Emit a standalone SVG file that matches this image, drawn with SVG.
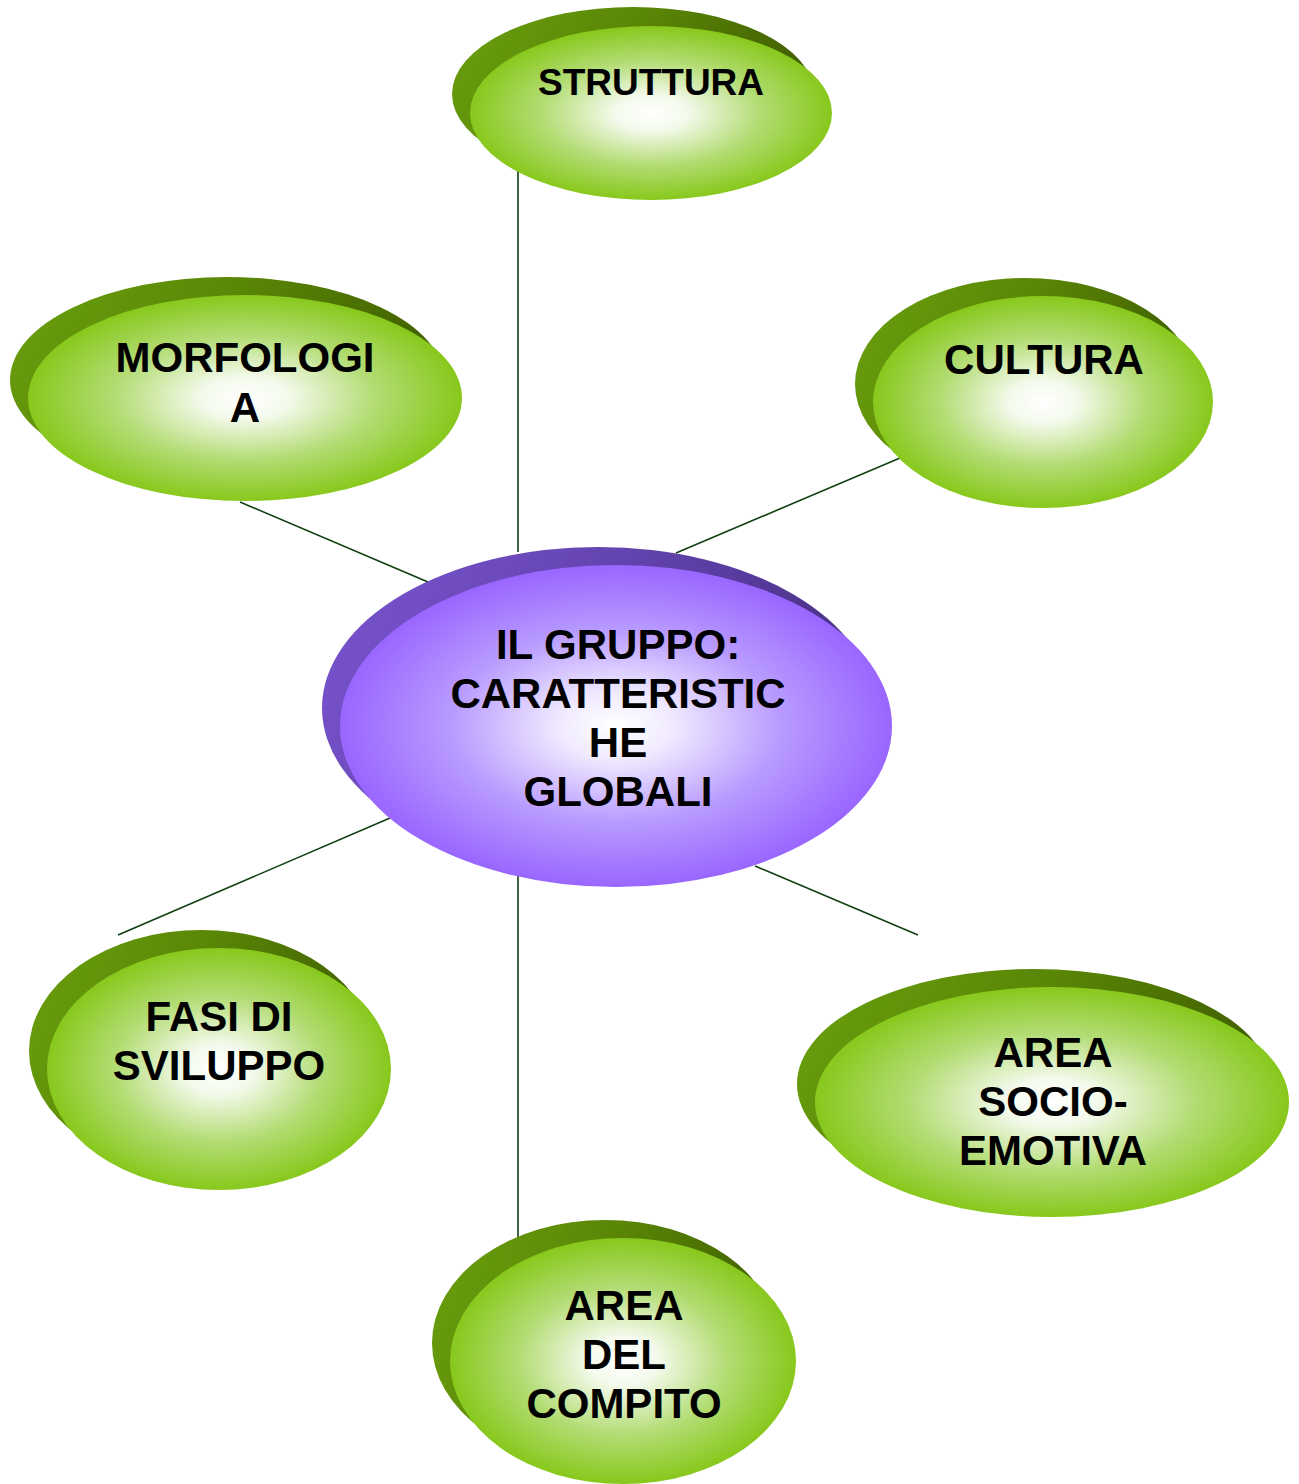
<svg xmlns="http://www.w3.org/2000/svg" width="1299" height="1484" viewBox="0 0 1299 1484">
<defs>
<radialGradient id="gFront" cx="0.5" cy="0.5" r="0.5">
<stop offset="0" stop-color="#ffffff"/>
<stop offset="0.2" stop-color="#f4faec"/>
<stop offset="0.6" stop-color="#b3dc74"/>
<stop offset="1" stop-color="#88c81c"/>
</radialGradient>
<linearGradient id="gBack" x1="0" y1="0" x2="1" y2="0.3">
<stop offset="0" stop-color="#6aa00e"/>
<stop offset="0.5" stop-color="#5a8606"/>
<stop offset="1" stop-color="#405e00"/>
</linearGradient>
<radialGradient id="pFront" cx="0.5" cy="0.5" r="0.5">
<stop offset="0" stop-color="#ffffff"/>
<stop offset="0.2" stop-color="#f1ebff"/>
<stop offset="0.6" stop-color="#b89aff"/>
<stop offset="1" stop-color="#9966ff"/>
</radialGradient>
<linearGradient id="pBack" x1="0" y1="0" x2="1" y2="0.3">
<stop offset="0" stop-color="#7a55d0"/>
<stop offset="0.5" stop-color="#6444b0"/>
<stop offset="1" stop-color="#483084"/>
</linearGradient>
</defs>
<style>
.back{fill:url(#gBack);}
.front{fill:url(#gFront);}
.pback{fill:url(#pBack);}
.pfront{fill:url(#pFront);}
.conn line{stroke:#123f12;stroke-width:1.6;fill:none;}
text{font-family:"Liberation Sans",Arial,sans-serif;font-weight:bold;fill:#000;text-anchor:middle;}
.t36{font-size:37px;}
.t42{font-size:42px;}
</style>
<rect width="1299" height="1484" fill="#ffffff"/>
<g id="connectors" class="conn">
<line x1="518" y1="160" x2="518" y2="552"/>
<line x1="240" y1="502" x2="428" y2="582"/>
<line x1="900" y1="458" x2="676" y2="553"/>
<line x1="390" y1="818" x2="118" y2="935"/>
<line x1="755" y1="866" x2="918" y2="935"/>
<line x1="518" y1="876" x2="518" y2="1240"/>
</g>
<g id="struttura">
<ellipse class="back" cx="633" cy="94" rx="181" ry="87"/>
<ellipse class="front" cx="651" cy="113" rx="181" ry="87"/>
<text class="t36" x="651" y="95">STRUTTURA</text>
</g>
<g id="morfologia">
<ellipse class="back" cx="227" cy="380" rx="217" ry="103"/>
<ellipse class="front" cx="245" cy="398" rx="217" ry="103"/>
<text class="t42" x="245" y="372">MORFOLOGI</text>
<text class="t42" x="245" y="422">A</text>
</g>
<g id="cultura">
<ellipse class="back" cx="1025" cy="384" rx="170" ry="106"/>
<ellipse class="front" cx="1043" cy="402" rx="170" ry="106"/>
<text class="t42" x="1044" y="374">CULTURA</text>
</g>
<g id="il-gruppo">
<ellipse class="pback" cx="598" cy="708" rx="276" ry="161"/>
<ellipse class="pfront" cx="616" cy="726" rx="276" ry="161"/>
<text class="t42" x="618" y="659">IL GRUPPO:</text>
<text class="t42" x="618" y="708">CARATTERISTIC</text>
<text class="t42" x="618" y="757">HE</text>
<text class="t42" x="618" y="806">GLOBALI</text>
</g>
<g id="fasi-di-sviluppo">
<ellipse class="back" cx="201" cy="1051" rx="172" ry="121"/>
<ellipse class="front" cx="219" cy="1069" rx="172" ry="121"/>
<text class="t42" x="219" y="1031">FASI DI</text>
<text class="t42" x="219" y="1080">SVILUPPO</text>
</g>
<g id="area-socio-emotiva">
<ellipse class="back" cx="1034" cy="1084" rx="237" ry="115"/>
<ellipse class="front" cx="1052" cy="1102" rx="237" ry="115"/>
<text class="t42" x="1053" y="1067">AREA</text>
<text class="t42" x="1053" y="1116">SOCIO-</text>
<text class="t42" x="1053" y="1165">EMOTIVA</text>
</g>
<g id="area-del-compito">
<ellipse class="back" cx="605" cy="1343" rx="173" ry="123"/>
<ellipse class="front" cx="623" cy="1361" rx="173" ry="123"/>
<text class="t42" x="624" y="1320">AREA</text>
<text class="t42" x="624" y="1369">DEL</text>
<text class="t42" x="624" y="1418">COMPITO</text>
</g>
</svg>
